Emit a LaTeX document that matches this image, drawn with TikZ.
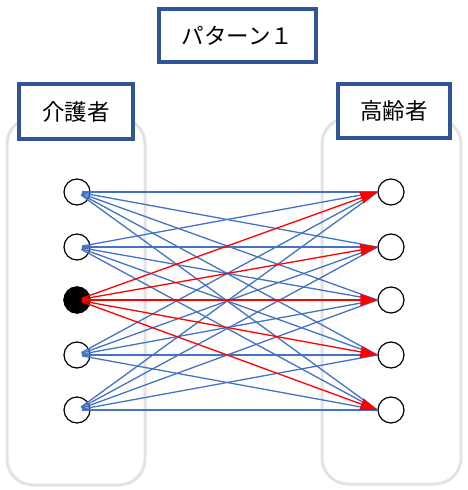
\documentclass[tikz,border=0pt]{standalone}
\usepackage{fontspec}
\newfontfamily\jp{Noto Sans CJK JP}
\usetikzlibrary{arrows.meta}
\definecolor{boxblue}{HTML}{2F5597}
\definecolor{lineblue}{HTML}{4472C4}
\definecolor{panelgray}{HTML}{E3E3E3}
\tikzset{
  panel/.style={draw=panelgray, line width=3pt, rounded corners=26pt},
  labelbox/.style={draw=boxblue, line width=4pt, fill=white, inner sep=0pt, font=\jp\fontsize{22.5}{26}\selectfont},
  person/.style={circle, draw=black, line width=1.2pt, fill=white, minimum size=26pt, inner sep=0pt},
  active/.style={person, fill=black},
  link/.style={lineblue, line width=1.3pt, shorten <=5pt},
  redlink/.style={red, line width=1.3pt, shorten <=5pt, -{Triangle[length=17pt,width=12pt]}}
}
\begin{document}
\begin{tikzpicture}[x=1pt,y=-1pt]
\useasboundingbox (0,0) rectangle (468,490);
\draw[panel] (7,118) rectangle (145,485);
\draw[panel] (322,118) rectangle (461,484);
\foreach \i/\y in {1/192,2/247,3/300,4/355,5/410}{
  \node[person] (L\i) at (77,\y) {};
  \node[person] (R\i) at (391,\y) {};
}
\node[active] (L3) at (77,300) {};
\foreach \i in {1,2,4,5}{
  \foreach \j in {1,2,3,4,5}{
    \draw[link] (L\i.center) -- (R\j.west);
  }
}
\foreach \j in {1,2,3,4,5}{
  \draw[redlink] (L3.center) -- (R\j.west);
}
\node[labelbox, minimum width=157pt, minimum height=53pt] (title) at (237.5,35.5) {パターン１};
\node[labelbox, minimum width=114pt, minimum height=55pt] (carer) at (76,111.5) {介護者};
\node[labelbox, minimum width=112pt, minimum height=54pt] (elder) at (394,111) {高齢者};
\end{tikzpicture}
\end{document}
